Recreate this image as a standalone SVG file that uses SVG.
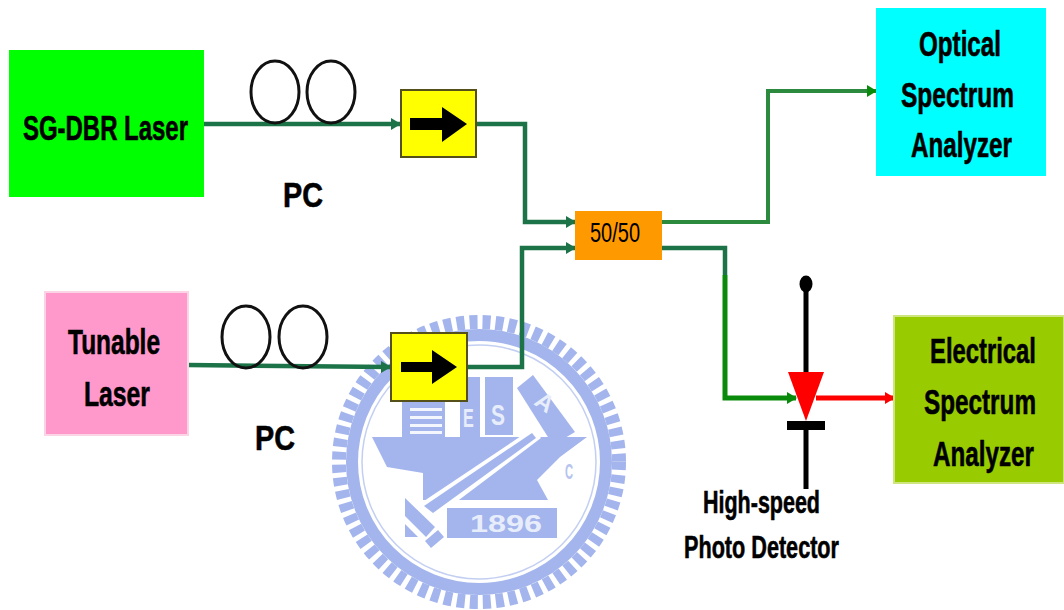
<svg xmlns="http://www.w3.org/2000/svg" width="1064" height="610" viewBox="0 0 1064 610">
<style>
text{font-family:"Liberation Sans",Arial,sans-serif;font-weight:bold;fill:#000;font-size:35px;text-anchor:start}
.lab{stroke:#000;stroke-width:.6}
.wt{fill:#e8edfb;stroke:none}
.w{fill:#a3b5ec}
.coil{fill:none;stroke:#111;stroke-width:3}
.iso{fill:#ff0;stroke:#55501a;stroke-width:2}
.fa{fill:none;stroke:#1c7348;stroke-width:4.500}
.fb{fill:none;stroke:#2b8a3e;stroke-width:4}
.fc{fill:none;stroke:#0a8a0a;stroke-width:5}
.k{stroke:#000;stroke-width:5;fill:none}
</style>
<defs>
<marker id="ag" markerUnits="userSpaceOnUse" markerWidth="10" markerHeight="12" refX="9" refY="6" orient="auto"><path d="M0 0L10 6L0 12Z" fill="#1c7348"/></marker>
<marker id="ah" markerUnits="userSpaceOnUse" markerWidth="10" markerHeight="12" refX="9" refY="6" orient="auto"><path d="M0 0L10 6L0 12Z" fill="#0a8a0a"/></marker>
<marker id="ar" markerUnits="userSpaceOnUse" markerWidth="10" markerHeight="12" refX="9" refY="6" orient="auto"><path d="M0 0L10 6L0 12Z" fill="#f00"/></marker>
</defs>
<rect width="1064" height="610" fill="#fff"/>
<g id="watermark">
<circle cx="479" cy="462" r="140" fill="none" stroke="#a3b5ec" stroke-width="14" stroke-dasharray="8 5"/>
<circle cx="479" cy="462" r="127" fill="none" stroke="#a3b5ec" stroke-width="12"/>
<circle cx="479" cy="462" r="117" fill="none" stroke="#c3cff2" stroke-width="1.500"/>
<rect class="w" x="402" y="400" width="43" height="38"/>
<g fill="#f4f6fd"><rect x="410" y="408" width="32" height="3"/><rect x="410" y="416" width="32" height="3"/><rect x="410" y="424" width="32" height="3"/><rect x="410" y="431" width="32" height="3"/></g>
<rect class="w" x="460" y="377" width="20" height="60"/>
<rect class="w" x="485" y="377" width="28" height="58"/>
<path class="w" d="M517 388L533 375L575 432L553 445Z"/>
<path class="w" d="M372 437H587L560 457L537 480L548 500H423V473L387 467Z"/>
<path d="M533 428L541 438L435 518L418 505Z" fill="#fff"/>
<path class="w" d="M532 433L536 438L433 513L424 506Z"/>
<path class="w" d="M405 498L435 527L426 537L405 516Z"/>
<path class="w" d="M405 524L418 537H405Z"/>
<path class="w" d="M425 541L438 530L444 537L431 548Z"/>
<rect class="w" x="447" y="508" width="110" height="30"/>
<text class="wt" x="470" y="532" textLength="72" lengthAdjust="spacingAndGlyphs" style="font-size:23px">1896</text>
<text class="wt" transform="translate(463 427) scale(.62 1)" style="font-size:26px">E</text>
<text class="wt" transform="translate(491 425) scale(.7 1)" style="font-size:30px">S</text>
<text class="wt" transform="translate(533 404) rotate(35)" style="font-size:24px">A</text>
<text transform="translate(565 479) scale(.7 1.400)" style="fill:#b6c4ef;font-size:16px">C</text>
</g>
<g id="connectors">
<path class="fa" d="M204 124H400" marker-end="url(#ag)"/>
<path class="fa" d="M477 124H525V222H575" marker-end="url(#ag)"/>
<path class="fa" d="M188 365L390 367" marker-end="url(#ag)"/>
<path class="fa" d="M467 367H522V248H575" marker-end="url(#ag)"/>
<path class="fb" d="M662 222H768V91H876" marker-end="url(#ah)"/>
<path class="fa" d="M662 248H725V275"/>
<path class="fc" d="M725 275V398H796" marker-end="url(#ah)"/>
<path d="M816 398H894" fill="none" stroke="#f00" stroke-width="5" marker-end="url(#ar)"/>
</g>
<g id="sgdbr"><rect x="9" y="50" width="195" height="147" fill="#0f0"/><text class="lab" x="23" y="140" textLength="165" lengthAdjust="spacingAndGlyphs">SG-DBR Laser</text></g>
<g id="tunable"><rect x="45" y="292" width="143" height="143" fill="#f9c" stroke="#fbd5e5" stroke-width="2"/><text class="lab" x="68" y="354" textLength="92" lengthAdjust="spacingAndGlyphs">Tunable</text><text class="lab" x="84" y="406" textLength="66" lengthAdjust="spacingAndGlyphs">Laser</text></g>
<g id="pc1"><ellipse class="coil" cx="275" cy="92" rx="24" ry="31"/><ellipse class="coil" cx="331" cy="92" rx="24" ry="31"/><text class="lab" x="283" y="207" textLength="40" lengthAdjust="spacingAndGlyphs">PC</text></g>
<g id="pc2"><ellipse class="coil" cx="246" cy="337" rx="24" ry="31"/><ellipse class="coil" cx="303" cy="337" rx="24" ry="31"/><text class="lab" x="255" y="450" textLength="40" lengthAdjust="spacingAndGlyphs">PC</text></g>
<g id="iso1"><rect class="iso" x="401" y="90" width="75" height="67"/><path d="M410 118H442V107L467 124L442 142V130H410Z"/></g>
<g id="iso2"><rect class="iso" x="391" y="333" width="76" height="68"/><path d="M401 362H432V350L457 367L432 384V372H401Z"/></g>
<g id="coupler"><rect x="575" y="211" width="87" height="49" fill="#f90"/><text x="590" y="242" textLength="50" lengthAdjust="spacingAndGlyphs" style="font-weight:normal;font-size:27px">50/50</text></g>
<g id="osa"><rect x="876" y="8" width="170" height="168" fill="#0ff"/><text class="lab" x="919" y="56" textLength="82" lengthAdjust="spacingAndGlyphs">Optical</text><text class="lab" x="901" y="107" textLength="113" lengthAdjust="spacingAndGlyphs">Spectrum</text><text class="lab" x="911" y="157" textLength="101" lengthAdjust="spacingAndGlyphs">Analyzer</text></g>
<g id="esa"><rect x="894" y="316" width="170" height="167" fill="#9c0" stroke="#cfe680" stroke-width="2"/><text class="lab" transform="translate(930 363) scale(.681 1)">Electrical</text><text class="lab" transform="translate(924 414) scale(.694 1)">Spectrum</text><text class="lab" transform="translate(933 466) scale(.692 1)">Analyzer</text></g>
<g id="photodetector">
<path class="k" d="M806 285V375M806 425V489"/>
<ellipse cx="806" cy="284" rx="6.500" ry="8.500"/>
<path d="M788 372H824L806 421Z" fill="#f00"/>
<rect x="787" y="421" width="38" height="9"/>
<text class="lab" x="703" y="513" textLength="117" lengthAdjust="spacingAndGlyphs" style="font-size:32px">High-speed</text>
<text class="lab" x="684" y="558" textLength="155" lengthAdjust="spacingAndGlyphs" style="font-size:32px">Photo Detector</text>
</g>
</svg>
